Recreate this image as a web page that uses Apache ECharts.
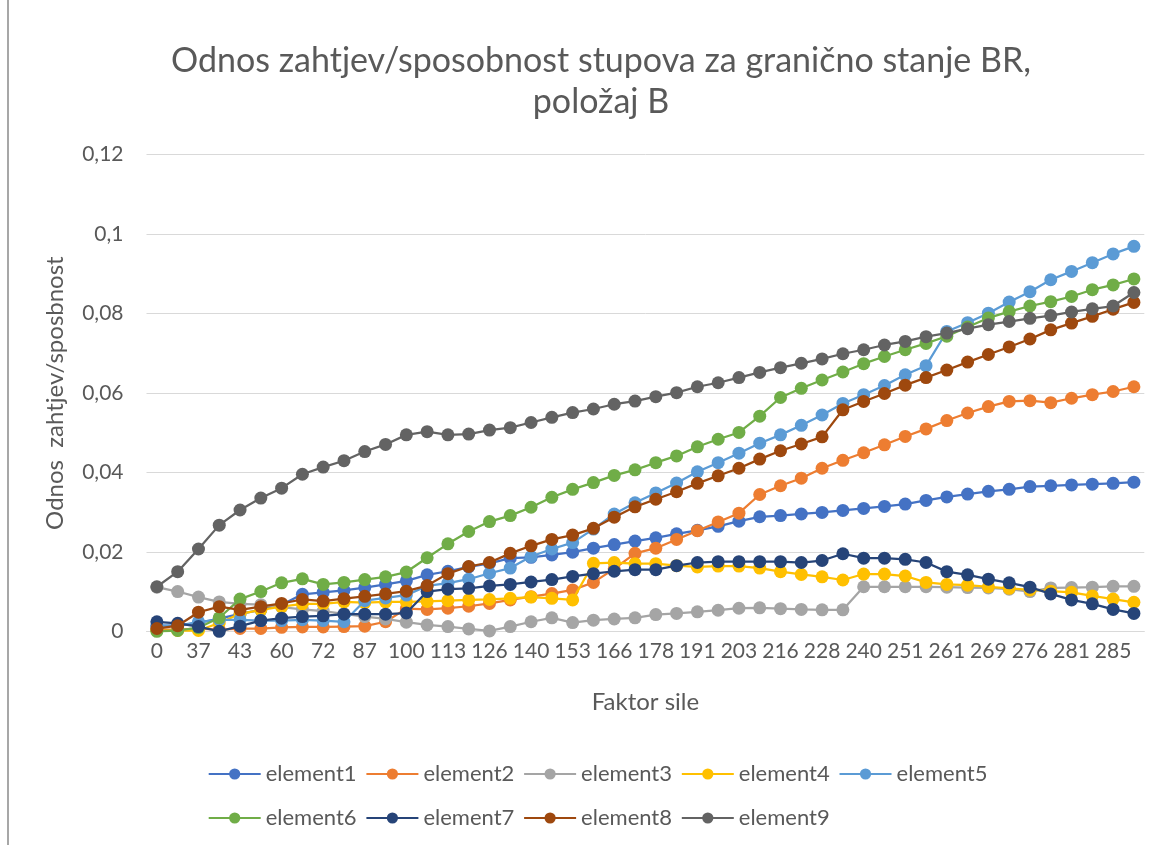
<!DOCTYPE html>
<html>
<head>
<meta charset="utf-8">
<script src="https://cdn.jsdelivr.net/npm/echarts@6/dist/echarts.min.js"></script>
<style>
  html, body { margin: 0; padding: 0; background: #fff; }
  #chart { width: 1166px; height: 845px; }
</style>
</head>
<body>
<div id="chart"></div>
<script>
// Faktor sile (force factor) steps along the horizontal axis
const categories = [
  '0', '19', '37', '40', '43', '52', '60', '66', '72', '80', '87', '94',
  '100', '107', '113', '120', '126', '133', '140', '147', '153', '160', '166', '172',
  '178', '185', '191', '197', '203', '210', '216', '222', '228', '234', '240', '246',
  '251', '256', '261', '265', '269', '273', '276', '279', '281', '283', '285', '287'
];

const element1 = [0.0015, 0.0015, 0.0022, 0.0033, 0.0045, 0.0055, 0.0068, 0.0094, 0.0099, 0.0104, 0.0111, 0.0119,
  0.0128, 0.0143, 0.0152, 0.0163, 0.0172, 0.0185, 0.0187, 0.0193, 0.0200, 0.0210, 0.0219, 0.0228,
  0.0236, 0.0246, 0.0255, 0.0265, 0.0278, 0.0289, 0.0292, 0.0296, 0.0300, 0.0305, 0.0310, 0.0315,
  0.0321, 0.0330, 0.0339, 0.0346, 0.0353, 0.0358, 0.0365, 0.0367, 0.0369, 0.0371, 0.0373, 0.0376];

const element2 = [0.0005, 0.0005, 0.0008, 0.0005, 0.0008, 0.0008, 0.0011, 0.0012, 0.0012, 0.0013, 0.0014, 0.0025,
  0.0058, 0.0056, 0.0059, 0.0064, 0.0071, 0.0080, 0.0088, 0.0096, 0.0105, 0.0124, 0.0158, 0.0197,
  0.0210, 0.0232, 0.0254, 0.0276, 0.0298, 0.0345, 0.0367, 0.0386, 0.0411, 0.0431, 0.0450, 0.0470,
  0.0491, 0.0510, 0.0531, 0.0550, 0.0566, 0.0579, 0.0581, 0.0576, 0.0587, 0.0596, 0.0604, 0.0616];

const element3 = [0.0112, 0.0101, 0.0087, 0.0075, 0.0070, 0.0068, 0.0062, 0.0056, 0.0052, 0.0045, 0.0038, 0.0032,
  0.0024, 0.0017, 0.0013, 0.0007, 0.0002, 0.0013, 0.0025, 0.0035, 0.0023, 0.0029, 0.0032, 0.0035,
  0.0043, 0.0046, 0.0050, 0.0054, 0.0059, 0.0060, 0.0058, 0.0056, 0.0055, 0.0055, 0.0113, 0.0113,
  0.0113, 0.0113, 0.0112, 0.0111, 0.0110, 0.0107, 0.0101, 0.0110, 0.0111, 0.0112, 0.0114, 0.0114];

const element4 = [0.0003, 0.0003, 0.0003, 0.0022, 0.0045, 0.0055, 0.0063, 0.0070, 0.0070, 0.0075, 0.0073, 0.0075,
  0.0075, 0.0076, 0.0078, 0.0080, 0.0081, 0.0084, 0.0087, 0.0084, 0.0080, 0.0172, 0.0174, 0.0171,
  0.0171, 0.0166, 0.0163, 0.0165, 0.0165, 0.0160, 0.0151, 0.0144, 0.0138, 0.0130, 0.0145, 0.0145,
  0.0140, 0.0124, 0.0119, 0.0117, 0.0113, 0.0109, 0.0105, 0.0102, 0.0099, 0.0090, 0.0082, 0.0074];

const element5 = [0.0015, 0.0015, 0.0025, 0.0030, 0.0030, 0.0028, 0.0028, 0.0030, 0.0028, 0.0025, 0.0078, 0.0085,
  0.0092, 0.0115, 0.0122, 0.0132, 0.0147, 0.0160, 0.0189, 0.0208, 0.0224, 0.0258, 0.0296, 0.0324,
  0.0349, 0.0374, 0.0402, 0.0425, 0.0449, 0.0474, 0.0495, 0.0519, 0.0545, 0.0574, 0.0596, 0.0619,
  0.0646, 0.0669, 0.0755, 0.0777, 0.0801, 0.0829, 0.0855, 0.0885, 0.0906, 0.0928, 0.0950, 0.0969];

const element6 = [0.0001, 0.0003, 0.0010, 0.0035, 0.0082, 0.0101, 0.0123, 0.0133, 0.0119, 0.0124, 0.0131, 0.0138,
  0.0150, 0.0186, 0.0221, 0.0252, 0.0277, 0.0292, 0.0313, 0.0338, 0.0358, 0.0375, 0.0393, 0.0407,
  0.0425, 0.0442, 0.0465, 0.0484, 0.0501, 0.0542, 0.0589, 0.0612, 0.0633, 0.0653, 0.0674, 0.0692,
  0.0709, 0.0725, 0.0743, 0.0766, 0.0789, 0.0805, 0.0819, 0.0830, 0.0843, 0.0860, 0.0872, 0.0887];

const element7 = [0.0025, 0.0021, 0.0013, 0.0001, 0.0014, 0.0028, 0.0034, 0.0038, 0.0040, 0.0044, 0.0044, 0.0044,
  0.0047, 0.0101, 0.0107, 0.0109, 0.0115, 0.0119, 0.0125, 0.0131, 0.0139, 0.0146, 0.0152, 0.0156,
  0.0156, 0.0166, 0.0174, 0.0176, 0.0176, 0.0176, 0.0176, 0.0174, 0.0179, 0.0196, 0.0185, 0.0185,
  0.0182, 0.0174, 0.0151, 0.0143, 0.0132, 0.0123, 0.0112, 0.0095, 0.0080, 0.0070, 0.0056, 0.0046];

const element8 = [0.0008, 0.0015, 0.0049, 0.0063, 0.0055, 0.0063, 0.0071, 0.0081, 0.0077, 0.0083, 0.0089, 0.0095,
  0.0102, 0.0116, 0.0146, 0.0164, 0.0174, 0.0197, 0.0216, 0.0232, 0.0243, 0.0260, 0.0288, 0.0314,
  0.0333, 0.0352, 0.0373, 0.0392, 0.0411, 0.0434, 0.0455, 0.0472, 0.0490, 0.0558, 0.0579, 0.0599,
  0.0620, 0.0639, 0.0658, 0.0678, 0.0697, 0.0716, 0.0736, 0.0759, 0.0776, 0.0793, 0.0811, 0.0828];

const element9 = [0.0113, 0.0151, 0.0208, 0.0268, 0.0306, 0.0336, 0.0361, 0.0396, 0.0414, 0.0430, 0.0453, 0.0471,
  0.0495, 0.0503, 0.0495, 0.0497, 0.0507, 0.0513, 0.0526, 0.0539, 0.0551, 0.0560, 0.0572, 0.0580,
  0.0591, 0.0601, 0.0616, 0.0626, 0.0639, 0.0652, 0.0664, 0.0675, 0.0686, 0.0699, 0.0709, 0.0721,
  0.0730, 0.0742, 0.0751, 0.0762, 0.0772, 0.0780, 0.0788, 0.0795, 0.0804, 0.0812, 0.0819, 0.0853];

const seriesNames = ['element1', 'element2', 'element3', 'element4', 'element5',
                     'element6', 'element7', 'element8', 'element9'];
const seriesValues = [element1, element2, element3, element4, element5,
                      element6, element7, element8, element9];
const seriesColors = ['#4472C4', '#ED7D31', '#A5A5A5', '#FFC000', '#5B9BD5',
                      '#70AD47', '#264478', '#9E480E', '#636363'];

const FONT = 'Lato, "Open Sans", sans-serif';
const TEXT = '#595959';

const chart = echarts.init(document.getElementById('chart'), null, { renderer: 'canvas' });

const legendCommon = {
  orient: 'horizontal',
  left: 202.7,
  padding: 5,
  itemWidth: 52,
  itemHeight: 14,
  itemGap: 8.8,
  textStyle: { color: TEXT, fontFamily: FONT, fontSize: 22 }
};

chart.setOption({
  backgroundColor: '#ffffff',
  animation: false,
  title: {
    text: 'Odnos zahtjev/sposobnost stupova za granično stanje BR,\npoložaj B',
    left: 596,
    top: 36,
    textAlign: 'center',
    textStyle: {
      color: TEXT,
      fontFamily: FONT,
      fontSize: 34,
      fontWeight: 'normal',
      lineHeight: 41
    }
  },
  graphic: [{
    type: 'line',
    shape: { x1: 8, y1: 0, x2: 8, y2: 845 },
    style: { stroke: '#8a8a8a', lineWidth: 1.5 }
  }],
  legend: [
    Object.assign({}, legendCommon, { top: 758, data: seriesNames.slice(0, 5) }),
    Object.assign({}, legendCommon, { top: 802, data: seriesNames.slice(5) })
  ],
  grid: { left: 146.5, right: 21.7, top: 154.5, bottom: 213.3, containLabel: false },
  xAxis: {
    type: 'category',
    data: categories,
    boundaryGap: true,
    name: 'Faktor sile',
    nameLocation: 'middle',
    nameGap: 71,
    nameTextStyle: { color: TEXT, fontFamily: FONT, fontSize: 24, verticalAlign: 'middle' },
    axisLine: { show: true, lineStyle: { color: '#D9D9D9', width: 1 } },
    axisTick: { show: false },
    axisLabel: { interval: 1, color: TEXT, fontFamily: FONT, fontSize: 21, margin: 20, verticalAlign: 'middle' }
  },
  yAxis: {
    type: 'value',
    min: 0,
    max: 0.12,
    interval: 0.02,
    name: 'Odnos  zahtjev/sposbnost',
    nameLocation: 'middle',
    nameGap: 91,
    nameTextStyle: { color: TEXT, fontFamily: FONT, fontSize: 24, verticalAlign: 'middle' },
    axisLine: { show: false },
    axisTick: { show: false },
    splitLine: { lineStyle: { color: '#D9D9D9', width: 1 } },
    axisLabel: {
      color: TEXT, fontFamily: FONT, fontSize: 21, margin: 23,
      formatter: v => String(Number(v.toFixed(2))).replace('.', ',')
    }
  },
  series: seriesNames.map((name, i) => ({
    name,
    type: 'line',
    data: seriesValues[i],
    symbol: 'circle',
    symbolSize: 13,
    showSymbol: true,
    lineStyle: { color: seriesColors[i], width: 2.25 },
    itemStyle: { color: seriesColors[i] },
    emphasis: { disabled: true },
    z: 2 + i
  }))
});
</script>
</body>
</html>
